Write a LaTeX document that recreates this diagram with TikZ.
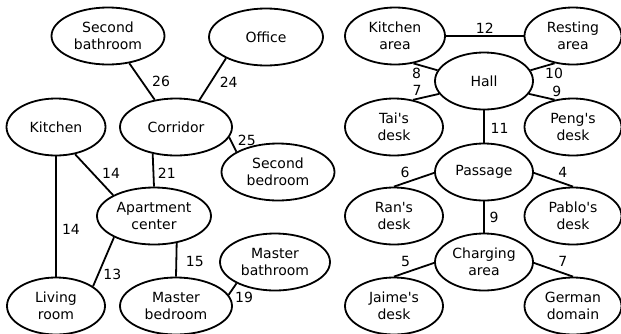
\documentclass[tikz,border=0pt]{standalone}
\usepackage{fontspec}
\setmainfont{DejaVu Sans}
\usepackage{tikz}
\usetikzlibrary{shapes.geometric}

\begin{document}
\begin{tikzpicture}[x=1pt, y=-1pt, line width=1.8pt, room/.style={ellipse, draw, inner sep=0pt, align=center, minimum height=57pt, minimum width=#1, font=\fontsize{14}{17.5}\selectfont}, room/.default=98pt, wt/.style={inner sep=0pt, font=\fontsize{14}{17.5}\selectfont}]
\useasboundingbox (0,0) rectangle (621,333);
\node[room=113pt] (sbath) at (108,36) {Second\\bathroom};
\node[room=114pt] (office) at (266,37) {Office};
\node[room=99pt] (kit) at (56,127) {Kitchen};
\node[room=112pt] (cor) at (176,127) {Corridor};
\node[room=113pt] (sbed) at (278,172) {Second\\bedroom};
\node[room=114pt] (apt) at (154,216) {Apartment\\center};
\node[room=110pt] (mbath) at (275,262) {Master\\bathroom};
\node[room=98pt] (liv) at (56,306) {Living\\room};
\node[room=112pt] (mbed) at (176,306) {Master\\bedroom};
\node[room=100pt] (kita) at (395,36) {Kitchen\\area};
\node[room=97pt] (rest) at (573,36) {Resting\\area};
\node[room] (hall) at (484,81) {Hall};
\node[room] (tai) at (394,127) {Tai\textquotesingle s\\desk};
\node[room=97pt] (peng) at (573,127) {Peng\textquotesingle s\\desk};
\node[room] (pass) at (484,172) {Passage};
\node[room] (ran) at (394,216) {Ran\textquotesingle s\\desk};
\node[room=97pt] (pablo) at (573,216) {Pablo\textquotesingle s\\desk};
\node[room] (charg) at (484,262) {Charging\\area};
\node[room] (jaime) at (394,306) {Jaime\textquotesingle s\\desk};
\node[room=97pt] (german) at (573,306) {German\\domain};
\draw (sbath.-52) -- node[wt, midway, xshift=19pt] {26} (cor.128);
\draw (office.-152) -- node[wt, midway, xshift=16pt, yshift=-3pt] {24} (cor.49);
\draw (cor.-11) -- node[wt, midway, xshift=14pt, yshift=4pt] {25} (sbed.154);
\draw (kit.south) -- node[wt, pos=.61, xshift=15pt] {14} (liv.north);
\draw (kit.-55) -- node[wt, midway, xshift=17pt, yshift=1pt] {14} (apt.153);
\draw (cor.-131) -- node[wt, midway, xshift=13.5pt, yshift=-3pt] {21} (apt.north);
\draw (apt.-152) -- node[wt, pos=.75, xshift=14pt] {13} (liv.28);
\draw (apt.-50) -- node[wt, midway, xshift=18.5pt, yshift=-2pt] {15} (mbed.north);
\draw (mbed.12) -- node[wt, midway, xshift=11.5pt, yshift=-8pt] {19} (mbath.-151);
\draw (kita) -- node[wt, midway, yshift=8pt] {12} (rest);
\draw (hall.167) -- node[wt, midway, xshift=-9pt, yshift=-7pt] {8} (kita.-56);
\draw (hall.196) -- node[wt, midway, xshift=-9pt, yshift=6pt] {7} (tai.55);
\draw (hall.13) -- node[wt, midway, xshift=11.5pt, yshift=-7pt] {10} (rest.-124);
\draw (hall.-16) -- node[wt, midway, xshift=15pt, yshift=5.5pt] {9} (peng.124);
\draw (hall) -- node[wt, midway, xshift=15.5pt, yshift=-1.5pt] {11} (pass);
\draw (pass.181) -- node[wt, midway, xshift=-9pt, yshift=7.5pt] {6} (ran.north);
\draw (pass.-1) -- node[wt, midway, xshift=9.5pt, yshift=7.5pt] {4} (pablo.north);
\draw (pass) -- node[wt, midway, xshift=10pt] {9} (charg);
\draw (charg.181) -- node[wt, midway, xshift=-8.5pt, yshift=8pt] {5} (jaime.north);
\draw (charg.-1) -- node[wt, midway, xshift=9.5pt, yshift=8pt] {7} (german.north);
\end{tikzpicture}
\end{document}
